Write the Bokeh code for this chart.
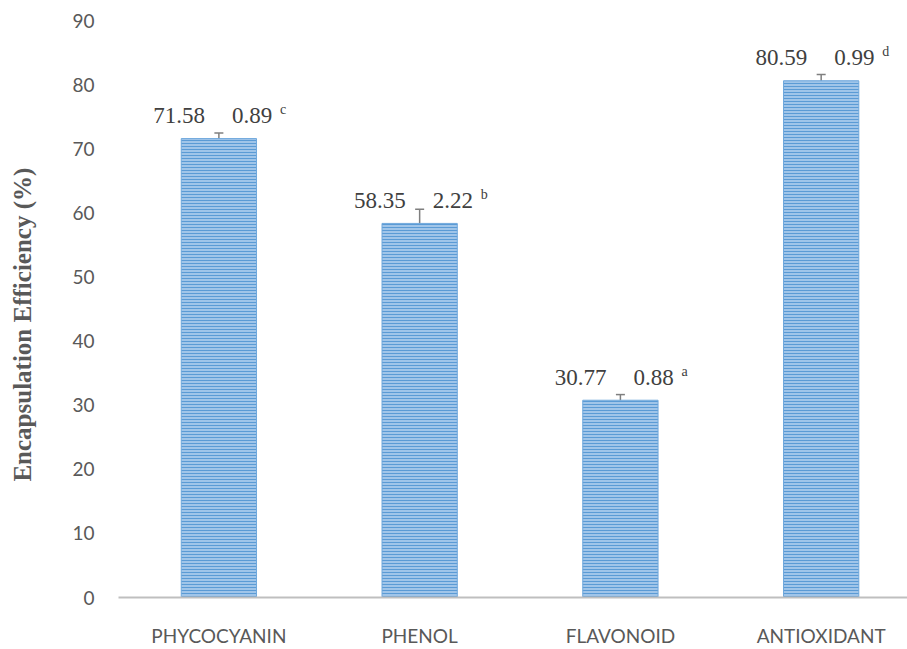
from bokeh.plotting import figure
from bokeh.models import ColumnDataSource, Range1d, FixedTicker, Whisker, TeeHead
from bokeh.core.properties import value
from bokeh.embed import file_html
from bokeh.resources import INLINE

categories = ["PHYCOCYANIN", "PHENOL", "FLAVONOID", "ANTIOXIDANT"]
means = [71.58, 58.35, 30.77, 80.59]
sds = [0.89, 2.22, 0.88, 0.99]
letters = ["c", "b", "a", "d"]
y_ticks = [0, 10, 20, 30, 40, 50, 60, 70, 80, 90]

xs = list(range(len(categories)))
src = ColumnDataSource(dict(
    x=xs, top=means,
    upper=[m + s for m, s in zip(means, sds)],
    lower=[m - s for m, s in zip(means, sds)],
    mean_txt=[f"{m:.2f}" for m in means],
    sd_txt=[f"{s:.2f}" for s in sds],
    letter=letters,
))

p = figure(width=907, height=649, output_backend="svg", toolbar_location=None,
           x_range=Range1d(-0.5, 3.43), y_range=Range1d(0, 90),
           min_border_left=118, min_border_right=0, min_border_top=20,
           min_border_bottom=52)
p.outline_line_color = None
p.grid.grid_line_color = None

p.vbar(x="x", top="top", width=0.375, source=src,
       fill_color="#A0C5E9", line_color="#6FA8DC", line_width=1,
       hatch_pattern="horizontal_line", hatch_color="#5B9BD5",
       hatch_scale=3, hatch_weight=1)

w = Whisker(base="x", upper="upper", lower="lower", source=src,
            line_color="#7F7F7F", line_width=1.5,
            upper_head=TeeHead(size=9, line_color="#7F7F7F", line_width=1.5),
            lower_head=TeeHead(size=9, line_color="#7F7F7F", line_width=1.5))
p.add_layout(w)

lab_kw = dict(text_font=value("Liberation Serif"), text_color="#404040",
              text_baseline="alphabetic")
p.text(x="x", y="top", text="mean_txt", source=src, text_align="right",
       x_offset=-14, y_offset=-23, text_font_size="23px", **lab_kw)
p.text(x="x", y="top", text="sd_txt", source=src, text_align="left",
       x_offset=13, y_offset=-23, text_font_size="23px", **lab_kw)
p.text(x="x", y="top", text="letter", source=src, text_align="left",
       x_offset=61, y_offset=-29, text_font_size="14px", **lab_kw)

# axes
p.xaxis.ticker = FixedTicker(ticks=xs)
p.xaxis.major_label_overrides = {i: c for i, c in enumerate(categories)}
p.xaxis.major_tick_line_color = None
p.xaxis.major_tick_out = 0
p.xaxis.major_tick_in = 0
p.xaxis.minor_tick_line_color = None
p.xaxis.axis_line_color = "#BFBFBF"
p.xaxis.axis_line_width = 2
p.xaxis.major_label_standoff = 26
p.xaxis.major_label_text_font = "Lato"
p.xaxis.major_label_text_font_size = "19px"
p.xaxis.major_label_text_color = "#595959"

p.yaxis.ticker = FixedTicker(ticks=y_ticks)
p.yaxis.major_tick_line_color = None
p.yaxis.major_tick_out = 0
p.yaxis.major_tick_in = 0
p.yaxis.minor_tick_line_color = None
p.yaxis.axis_line_color = None
p.yaxis.major_label_standoff = 24
p.yaxis.major_label_text_font = "Lato"
p.yaxis.major_label_text_font_size = "19px"
p.yaxis.major_label_text_color = "#595959"
p.yaxis.axis_label = "Encapsulation Efficiency (%)" + "\u00a0" * 5
p.yaxis.axis_label_text_font = "Liberation Serif"
p.yaxis.axis_label_text_font_style = "bold"
p.yaxis.axis_label_text_font_size = "25px"
p.yaxis.axis_label_text_color = "#595959"
p.yaxis.axis_label_standoff = 33

open("out.html", "w").write(file_html(p, INLINE))
